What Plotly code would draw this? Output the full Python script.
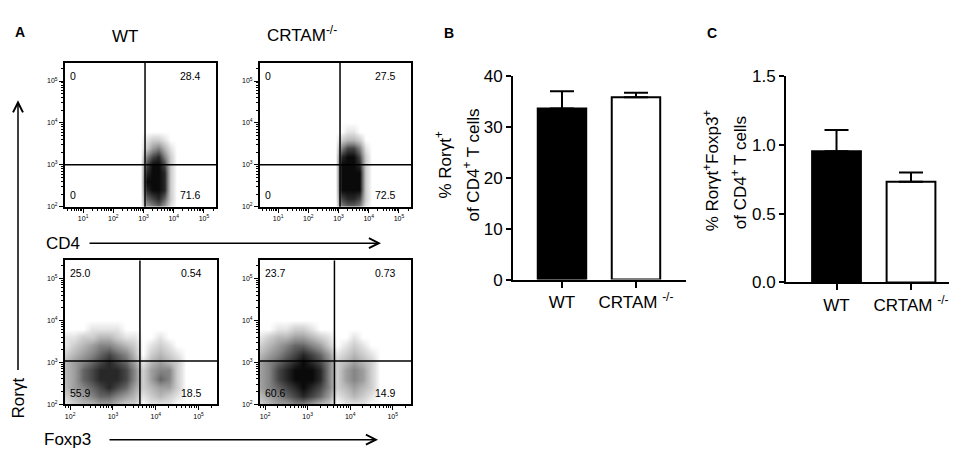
import math
import plotly.graph_objects as go

W, H = 957, 456
FONT = "Liberation Sans, Arial, sans-serif"

# ---- panel A: flow plots ----
# quadrant percentages: upper-left, upper-right, lower-left, lower-right
cd4_wt_quads = ["0", "28.4", "0", "71.6"]
cd4_ko_quads = ["0", "27.5", "0", "72.5"]
foxp3_wt_quads = ["25.0", "0.54", "55.9", "18.5"]
foxp3_ko_quads = ["23.7", "0.73", "60.6", "14.9"]

# gate positions (log10 units): vertical, horizontal
cd4_gate = [3.05, 3.0]
foxp3_gate = [3.63, 3.03]

# dot density, 0 = empty .. 9 = solid black
# rows run from the top (high Rorγt) down to the bottom
cd4_grid_x = [2.9, 3.1, 3.3, 3.5, 3.7, 3.9, 4.1]
cd4_grid_y = [4.0, 3.8, 3.6, 3.4, 3.2, 3.0, 2.8, 2.6, 2.4, 2.2, 2.0]
cd4_wt_density = [
    "0000000",
    "0000000",
    "0122100",
    "0245310",
    "0578520",
    "0799720",
    "0899820",
    "0999820",
    "0899820",
    "0678620",
    "0456410",
]
cd4_ko_density = [
    "0000000",
    "0011000",
    "0233200",
    "0577510",
    "0899720",
    "0999820",
    "0999920",
    "0999920",
    "0999920",
    "0788720",
    "0566510",
]

foxp3_grid_x = [1.7, 1.9, 2.1, 2.3, 2.5, 2.7, 2.9, 3.1, 3.3, 3.5,
                3.7, 3.9, 4.1, 4.3, 4.5, 4.7, 4.9]
foxp3_grid_y = [4.0, 3.8, 3.6, 3.4, 3.2, 3.0, 2.8, 2.6, 2.4, 2.2, 2.0]
foxp3_wt_density = [
    "00000000000000000",
    "00001111000000000",
    "01122332110010000",
    "11234554320121000",
    "12345676530232100",
    "23456787641343200",
    "23467888752455200",
    "23467888752465200",
    "23456787642344200",
    "12345665431232100",
    "11233443220111000",
]
foxp3_ko_density = [
    "00000000000000000",
    "00011221000000000",
    "11233443210010000",
    "22345665420121000",
    "23456787641232100",
    "34567898752343200",
    "34578999852454200",
    "34578999852454200",
    "34567898752343200",
    "23456787641232100",
    "12344554320111000",
]

# ---- panels B and C: bar charts ----
groups = ["WT", "CRTAM <sup>-/-</sup>"]
rort_mean = [33.7, 35.9]
rort_sem = [3.4, 0.9]
double_mean = [0.955, 0.733]
double_sem = [0.155, 0.067]
bar_fill = ["black", "white"]


def px_x(x):
    return x / W


def px_y(y):
    return 1 - y / H


def flow_axis(dom, rng, majors, anchor):
    lo, hi = rng
    minors = []
    for d in range(int(math.floor(lo)), int(math.ceil(hi)) + 1):
        for k in range(2, 10):
            v = d + math.log10(k)
            if lo < v < hi:
                minors.append(v)
    return dict(
        domain=dom, range=rng, anchor=anchor,
        showline=True, linewidth=2, linecolor="black", mirror=True,
        showgrid=False, zeroline=False,
        ticks="outside", ticklen=4, tickwidth=1, tickcolor="black",
        tickvals=majors, ticktext=[f"10<sup>{m}</sup>" for m in majors],
        tickfont=dict(family=FONT, size=7, color="black"),
        minor=dict(tickmode="array", tickvals=minors, ticks="outside",
                   ticklen=2, tickwidth=1, tickcolor="black"),
    )


fig = go.Figure()

gray_scale = [
    [0.0, "rgb(255,255,255)"],
    [0.11, "rgb(228,228,228)"],
    [0.33, "rgb(184,184,184)"],
    [0.56, "rgb(132,132,132)"],
    [0.78, "rgb(70,70,70)"],
    [1.0, "rgb(10,10,10)"],
]

# (axis number, x pixels, y pixels, x range, x majors, grid x, grid y, density, quads, gate)
flow_panels = [
    (1, (57, 208), (48, 198), [0.4, 5.4], [1, 2, 3, 4, 5],
     cd4_grid_x, cd4_grid_y, cd4_wt_density, cd4_wt_quads, cd4_gate),
    (2, (252, 403), (48, 198), [0.4, 5.4], [1, 2, 3, 4, 5],
     cd4_grid_x, cd4_grid_y, cd4_ko_density, cd4_ko_quads, cd4_gate),
    (3, (57, 209), (254, 404), [1.88, 5.43], [2, 3, 4, 5],
     foxp3_grid_x, foxp3_grid_y, foxp3_wt_density, foxp3_wt_quads, foxp3_gate),
    (4, (252, 403), (254, 404), [1.88, 5.43], [2, 3, 4, 5],
     foxp3_grid_x, foxp3_grid_y, foxp3_ko_density, foxp3_ko_quads, foxp3_gate),
]

layout = dict(
    width=W, height=H, margin=dict(l=0, r=0, t=0, b=0),
    paper_bgcolor="white", plot_bgcolor="white", showlegend=False,
    font=dict(family=FONT, color="black"),
)
shapes = []
annotations = []

for n, xp, yp, xr, majors, gx, gy, dens, quads, gate in flow_panels:
    sfx = "" if n == 1 else str(n)
    z = [[int(c) for c in row] for row in reversed(dens)]
    fig.add_trace(go.Heatmap(
        x=gx, y=list(reversed(gy)), z=z, zmin=0, zmax=9,
        colorscale=gray_scale, showscale=False, zsmooth="best",
        hoverinfo="skip", xaxis=f"x{sfx}", yaxis=f"y{sfx}",
    ))
    layout[f"xaxis{n}"] = flow_axis([px_x(xp[0]), px_x(xp[1])], xr, majors, f"y{sfx}")
    layout[f"yaxis{n}"] = flow_axis([px_y(yp[1]), px_y(yp[0])], [2, 5.43], [2, 3, 4, 5], f"x{sfx}")
    # quadrant gates
    shapes.append(dict(type="line", xref=f"x{sfx}", yref=f"y{sfx} domain",
                       x0=gate[0], x1=gate[0], y0=0, y1=1,
                       line=dict(color="black", width=1.5)))
    shapes.append(dict(type="line", xref=f"x{sfx} domain", yref=f"y{sfx}",
                       x0=0, x1=1, y0=gate[1], y1=gate[1],
                       line=dict(color="black", width=1.5)))
    # quadrant numbers
    for i, txt in enumerate(quads):
        right = i % 2 == 1
        top = i < 2
        annotations.append(dict(
            text=txt, xref=f"x{sfx} domain", yref=f"y{sfx} domain",
            x=0.915 if right else 0.02, y=0.91 if top else 0.08,
            xanchor="right" if right else "left", yanchor="middle",
            showarrow=False, font=dict(family=FONT, size=10.5, color="black"),
        ))

# ---- bar charts ----
bar_panels = [
    (5, (505, 678), (62, 274), [-0.662, 1.676], [0, 40], [0, 10, 20, 30, 40],
     ["0", "10", "20", "30", "40"], rort_mean, rort_sem),
    (6, (778, 955), (62, 277), [-0.678, 1.698], [0, 1.5], [0, 0.5, 1.0, 1.5],
     ["0.0", "0.5", "1.0", "1.5"], double_mean, double_sem),
]

for n, xp, yp, xr, yr, yt, ytt, mean, sem in bar_panels:
    fig.add_trace(go.Bar(
        x=[0, 1], y=mean, width=0.655,
        marker=dict(color=bar_fill, line=dict(color="black", width=2)),
        error_y=dict(type="data", array=sem, arrayminus=[0, 0], symmetric=False,
                     color="black", thickness=2, width=12),
        xaxis=f"x{n}", yaxis=f"y{n}", hoverinfo="skip",
    ))
    layout[f"xaxis{n}"] = dict(
        domain=[px_x(xp[0]), px_x(xp[1])], range=xr, anchor=f"y{n}",
        showline=True, linewidth=2, linecolor="black", showgrid=False, zeroline=False,
        ticks="outside", ticklen=6, tickwidth=2, tickcolor="black",
        tickvals=[0, 1], ticktext=groups,
        tickfont=dict(family=FONT, size=17, color="black"),
    )
    layout[f"yaxis{n}"] = dict(
        domain=[px_y(yp[1]), px_y(yp[0])], range=yr, anchor=f"x{n}",
        showline=True, linewidth=2, linecolor="black", showgrid=False, zeroline=False,
        ticks="outside", ticklen=5, tickwidth=2, tickcolor="black",
        tickvals=yt, ticktext=ytt, ticklabelstandoff=0,
        tickfont=dict(family=FONT, size=17, color="black"),
    )


def label(text, x, y, size, bold=False, angle=0, xanchor="center"):
    annotations.append(dict(
        text=f"<b>{text}</b>" if bold else text, xref="paper", yref="paper",
        x=px_x(x), y=px_y(y), xanchor=xanchor, yanchor="middle",
        showarrow=False, textangle=angle,
        font=dict(family=FONT, size=size, color="black"),
    ))


def arrow(x_tip, y_tip, x_tail, y_tail):
    annotations.append(dict(
        text="", xref="paper", yref="paper", x=px_x(x_tip), y=px_y(y_tip),
        ax=x_tail - x_tip, ay=y_tail - y_tip, axref="pixel", ayref="pixel",
        showarrow=True, arrowhead=5, arrowsize=1.3, arrowwidth=1.5,
        arrowcolor="black", standoff=0, startstandoff=0,
    ))


# panel letters
label("A", 12, 16, 14, bold=True)
label("B", 441, 17, 14, bold=True)
label("C", 704, 17, 14, bold=True)

# flow headers and axis names
label("WT", 117, 20, 17)
label("CRTAM<sup>-/-</sup>", 294, 18, 17)
label("CD4", 55, 236, 17)
label("Foxp3", 60, 441, 17)
label("Rorγt", 10, 398, 17, angle=-90)
arrow(373, 236, 80, 236)
arrow(370, 441, 100, 441)
arrow(10, 87, 10, 358)

# bar chart y titles
label("% Rorγt<sup>+</sup>", 435, 155, 17, angle=-90)
label("of CD4<sup>+</sup> T cells", 463, 155, 17, angle=-90)
label("% Rorγt<sup>+</sup>Foxp3<sup>+</sup>", 703, 160, 17, angle=-90)
label("of CD4<sup>+</sup> T cells", 731, 163, 17, angle=-90)

layout["shapes"] = shapes
layout["annotations"] = annotations
fig.update_layout(**layout)

fig.write_html("out.html")
